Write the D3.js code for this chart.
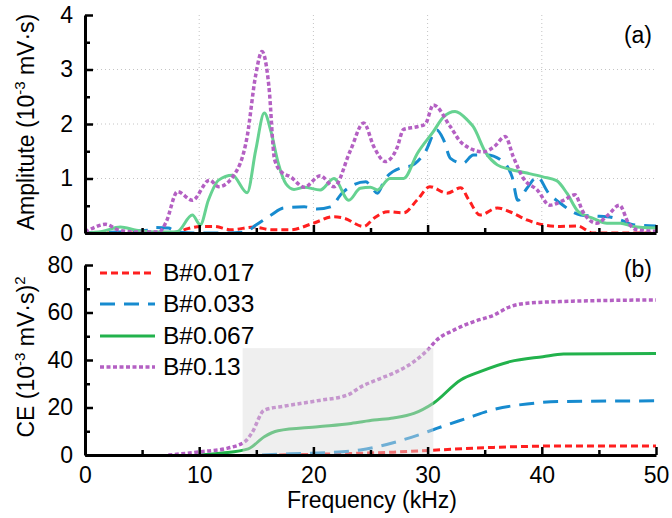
<!DOCTYPE html>
<html>
<head>
<meta charset="utf-8">
<script src="https://cdn.jsdelivr.net/npm/d3@7.9.0/dist/d3.min.js"></script>
<style>
  body { margin: 0; background: #fff; }
  svg text { font-family: "Liberation Sans", Arial, sans-serif; fill: #000; }
  .axis path, .axis line { stroke: #000; }
  .axis path { stroke-width: 3; }
  .axis line { stroke-width: 2.5; }
</style>
</head>
<body>
<svg id="chart" width="672" height="518"></svg>
<script>
// panel (a): amplitude spectra
const freqA017 = [0, 5, 7.8, 9.0, 10.1, 11.3, 12.8, 14.8, 16.3, 18.0, 20.0, 21.8, 22.7, 24.4, 25.3, 26.5, 27.9, 29.1, 30.2, 31.7, 32.9, 33.6, 34.6, 36.1, 37.2, 38.7, 40.1, 41.6, 43.1, 44.5, 47, 50];
const ampA017 = [0, 0, 0, 0.08, 0.12, 0.12, 0.06, 0.11, 0.06, 0.06, 0.18, 0.3, 0.27, 0.12, 0.27, 0.39, 0.37, 0.61, 0.85, 0.73, 0.83, 0.61, 0.33, 0.46, 0.39, 0.24, 0.15, 0.12, 0.13, 0.0, 0.0, 0.0];

const freqA033 = [0, 3, 5.5, 6.0, 7.3, 8.0, 10, 12, 14.0, 15.0, 16.3, 17.4, 19.2, 20.3, 21.5, 22.5, 24.6, 25.0, 25.6, 26.3, 27.9, 28.5, 29.8, 30.8, 31.4, 32.0, 33.1, 34.0, 35.2, 36.4, 37.4, 37.9, 38.7, 39.6, 40.6, 41.6, 43.4, 44.5, 45.7, 46.9, 48.0, 50];
const ampA033 = [0, 0.02, 0.05, 0.1, 0.09, 0.02, 0, 0, 0.02, 0.15, 0.33, 0.46, 0.48, 0.44, 0.48, 0.73, 0.94, 0.86, 0.73, 1.0, 1.21, 1.23, 1.49, 1.89, 1.71, 1.37, 1.28, 1.43, 1.43, 1.34, 1.03, 0.6, 0.82, 1.03, 0.73, 0.55, 0.33, 0.31, 0.30, 0.24, 0.15, 0.13];

const freqA067 = [0, 1.5, 3.1, 4.5, 6, 7.5, 8.1, 9.4, 10.1, 10.8, 11.7, 12.9, 14.2, 14.95, 15.7, 16.3, 16.9, 17.6, 18.3, 19.2, 20.6, 21.8, 23.1, 24.1, 25.0, 25.6, 26.7, 27.9, 29.1, 30.5, 31.4, 32.4, 33.5, 34.0, 35.1, 36.1, 37.2, 38.7, 40.1, 41.3, 42.2, 43.2, 44.5, 45.7, 46.9, 48.0, 50];
const ampA067 = [0, 0.03, 0.11, 0.05, 0.02, 0.02, 0.03, 0.33, 0.15, 0.6, 0.97, 1.06, 0.74, 1.52, 2.2, 1.85, 1.3, 0.9, 0.8, 0.84, 0.79, 1.0, 0.6, 0.82, 0.84, 0.79, 1.0, 1.0, 1.46, 1.86, 2.13, 2.23, 2.07, 1.95, 1.47, 1.25, 1.17, 1.1, 1.03, 0.96, 0.73, 0.39, 0.27, 0.18, 0.18, 0.12, 0.09];

const freqA13 = [0, 0.8, 1.8, 3.0, 4.5, 6.5, 7.1, 8.1, 9.4, 10.9, 11.7, 13.0, 14.2, 14.95, 15.5, 16.1, 16.6, 17.2, 18.0, 19.2, 20.6, 21.8, 23.25, 24.4, 25.3, 26.3, 27.3, 27.9, 29.1, 29.8, 30.5, 32.0, 33.0, 34.9, 35.8, 36.8, 37.5, 38.4, 39.6, 40.7, 41.9, 42.9, 43.6, 44.8, 45.8, 46.8, 47.6, 48.3, 50];
const ampA13 = [0.02, 0.1, 0.16, 0.05, 0.02, 0.02, 0.2, 0.76, 0.6, 0.97, 0.85, 1.05, 1.77, 2.9, 3.33, 2.7, 1.35, 1.12, 1.03, 0.84, 1.05, 0.85, 1.52, 2.02, 1.58, 1.31, 1.55, 1.9, 1.95, 2.0, 2.35, 1.95, 1.65, 1.49, 1.58, 1.77, 1.4, 1.0, 0.79, 0.51, 0.6, 0.7, 0.39, 0.18, 0.33, 0.51, 0.18, 0.06, 0.03];

// panel (b): cumulative energy
const freqB017 = [17, 22, 27, 30.8, 35.8, 41.6, 50];
const ceB017 = [0, 0.5, 1.2, 2.1, 3.2, 3.8, 3.8];
const freqB033 = [15.5, 18, 21, 24.1, 27.3, 30.0, 30.8, 33.4, 35.8, 38.7, 41.6, 50];
const ceB033 = [0, 0.5, 1.0, 2.1, 5.6, 9.8, 11.2, 15.4, 19.2, 21.5, 22.5, 22.8];
const freqB067 = [10, 12, 14.3, 15.7, 16.9, 20.4, 23.3, 25.3, 27.0, 28.8, 30.5, 32.9, 34.6, 37.2, 40.1, 41.9, 50];
const ceB067 = [0, 0.8, 2.6, 7.7, 10.2, 11.9, 13.3, 14.7, 15.6, 17.5, 21.8, 31.6, 35.1, 39.3, 41.4, 42.5, 42.7];
const freqB13 = [7.3, 10.2, 12.5, 14.0, 14.6, 15.7, 17.5, 20.4, 23.0, 24.2, 25.9, 27.3, 28.8, 30.0, 30.8, 32.3, 34.0, 35.8, 37.2, 38.7, 41.6, 50];
const ceB13 = [0, 1.4, 2.9, 5.6, 9.2, 18.9, 20.6, 22.9, 25.3, 28.8, 32.3, 35.1, 39.3, 44.2, 48.4, 52.6, 56.1, 58.9, 62.4, 63.9, 64.6, 65.3];

const labels = ['B#0.017', 'B#0.033', 'B#0.067', 'B#0.13'];
const shadeRange = [13.8, 30.5];
const shadeTop = 45;

const styles = [
  { color: '#ff1f1f', top: '#ff1f1f', width: 3, dash: '7,4' },
  { color: '#178bcf', top: '#178bcf', width: 3, dash: '15,9' },
  { color: '#22b24c', top: '#66d291', width: 3, dash: null },
  { color: '#b460c3', top: '#b460c3', width: 3.5, dash: '4,2.5' }
];

const svg = d3.select('#chart');
const x = d3.scaleLinear().domain([0, 50]).range([85, 656]);
const yA = d3.scaleLinear().domain([0, 4]).range([233, 15]);
const yB = d3.scaleLinear().domain([0, 80]).range([455, 265]);

const seriesA = [[freqA017, ampA017], [freqA033, ampA033], [freqA067, ampA067], [freqA13, ampA13]];
const seriesB = [[freqB017, ceB017], [freqB033, ceB033], [freqB067, ceB067], [freqB13, ceB13]];

// dotted grid, top panel only
const grid = svg.append('g').attr('stroke', '#c4c4c4').attr('stroke-width', 1).attr('stroke-dasharray', '1,3');
[10, 20, 30, 40].forEach((f) => {
  grid.append('line').attr('x1', x(f)).attr('x2', x(f)).attr('y1', yA(4)).attr('y2', yA(0));
});
[1, 2, 3].forEach((v) => {
  grid.append('line').attr('x1', x(0)).attr('x2', x(50)).attr('y1', yA(v)).attr('y2', yA(v));
});

function drawLines(series, yScale, key) {
  series.forEach(([fs, vs], i) => {
    const pts = fs.map((f, j) => [f, vs[j]]);
    const line = d3.line().x((d) => x(d[0])).y((d) => yScale(d[1])).curve(d3.curveMonotoneX);
    svg.append('path')
      .attr('d', line(pts))
      .attr('fill', 'none')
      .attr('stroke', styles[i][key])
      .attr('stroke-width', styles[i].width)
      .attr('stroke-dasharray', styles[i].dash)
      .attr('stroke-linejoin', 'round');
  });
}

drawLines(seriesA, yA, 'top');
drawLines(seriesB, yB, 'color');

// grey band over panel (b)
svg.append('rect')
  .attr('x', x(shadeRange[0]))
  .attr('width', x(shadeRange[1]) - x(shadeRange[0]))
  .attr('y', yB(shadeTop))
  .attr('height', yB(0) - yB(shadeTop))
  .attr('fill', '#dcdcdc')
  .attr('opacity', 0.45);

function drawAxes(yScale, yMajor, yMinor, xLabels) {
  const y0 = yScale.range()[0];
  const gx = svg.append('g').attr('class', 'axis').attr('transform', `translate(0,${y0})`);
  gx.call(d3.axisBottom(x).tickValues([0, 10, 20, 30, 40, 50]).tickSize(-8).tickSizeOuter(0)
    .tickPadding(12).tickFormat(xLabels ? d3.format('d') : ''));
  const gxm = svg.append('g').attr('class', 'axis').attr('transform', `translate(0,${y0})`);
  gxm.call(d3.axisBottom(x).tickValues([5, 15, 25, 35, 45]).tickSize(-5).tickSizeOuter(0).tickFormat(''));
  gxm.select('.domain').remove();

  const gy = svg.append('g').attr('class', 'axis').attr('transform', `translate(${x(0)},0)`);
  gy.call(d3.axisLeft(yScale).tickValues(yMajor).tickSize(-8).tickSizeOuter(0).tickPadding(12)
    .tickFormat(d3.format('d')));
  const gym = svg.append('g').attr('class', 'axis').attr('transform', `translate(${x(0)},0)`);
  gym.call(d3.axisLeft(yScale).tickValues(yMinor).tickSize(-5).tickSizeOuter(0).tickFormat(''));
  gym.select('.domain').remove();

  svg.selectAll('.axis text').attr('font-size', 23).attr('font-family', '"Liberation Sans", Arial, sans-serif');
}

drawAxes(yA, [0, 1, 2, 3, 4], [0.5, 1.5, 2.5, 3.5], false);
drawAxes(yB, [0, 20, 40, 60, 80], [10, 30, 50, 70], true);

// axis titles
const t1 = svg.append('text').attr('transform', 'translate(34,122) rotate(-90)')
  .attr('text-anchor', 'middle').attr('font-size', 23);
t1.append('tspan').text('Amplitute (10');
t1.append('tspan').attr('dy', -9).attr('font-size', 15).text('-3');
t1.append('tspan').attr('dy', 9).text(' mV·s)');

const t2 = svg.append('text').attr('transform', 'translate(34,357) rotate(-90)')
  .attr('text-anchor', 'middle').attr('font-size', 23);
t2.append('tspan').text('CE (10');
t2.append('tspan').attr('dy', -9).attr('font-size', 15).text('-3');
t2.append('tspan').attr('dy', 9).text(' mV·s)');
t2.append('tspan').attr('dy', -9).attr('font-size', 15).text('2');

svg.append('text').attr('x', 372).attr('y', 508).attr('text-anchor', 'middle')
  .attr('font-size', 23).text('Frequency (kHz)');

svg.append('text').attr('x', 652).attr('y', 43).attr('text-anchor', 'end').attr('font-size', 23).text('(a)');
svg.append('text').attr('x', 652).attr('y', 277).attr('text-anchor', 'end').attr('font-size', 23).text('(b)');

// legend
const legendY = [273, 304, 336, 367];
labels.forEach((lab, i) => {
  svg.append('line')
    .attr('x1', 100).attr('x2', 155).attr('y1', legendY[i]).attr('y2', legendY[i])
    .attr('stroke', styles[i].color)
    .attr('stroke-width', styles[i].width)
    .attr('stroke-dasharray', styles[i].dash);
  svg.append('text').attr('x', 163).attr('y', legendY[i] + 8).attr('font-size', 24.5).text(lab);
});
</script>
</body>
</html>
